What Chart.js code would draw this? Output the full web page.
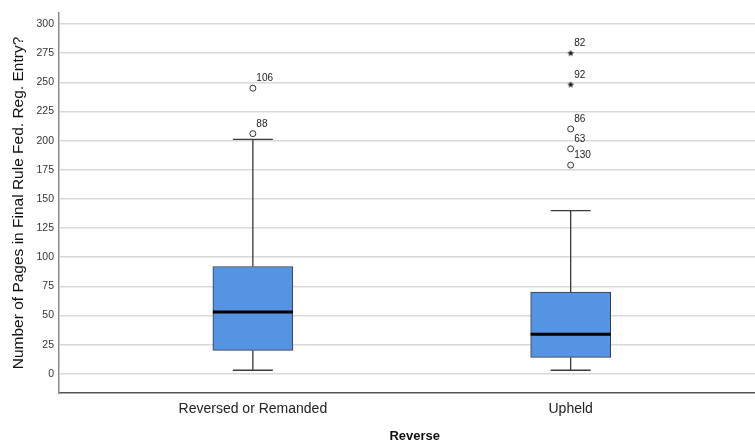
<!DOCTYPE html>
<html>
<head>
<meta charset="utf-8">
<script src="https://cdn.jsdelivr.net/npm/chart.js@4/dist/chart.umd.min.js"></script>
<style>
  html, body { margin: 0; padding: 0; background: #fff; }
  #wrap { width: 755px; height: 447px; }
</style>
</head>
<body>
<div id="wrap"><canvas id="c" width="755" height="447"></canvas></div>
<script>
// Box-plot summary per group (pages in final rule)
const categories = ['Reversed or Remanded', 'Upheld'];
const q1 = [20, 14];
const medians = [53, 34];
const q3 = [92, 70];
const whiskerLow = [3, 3];
const whiskerHigh = [201, 140];

// Outliers (o) and extreme values (*), with case numbers
const outlierCat = [0, 0, 1, 1, 1];
const outlierVal = [245, 206, 210, 193, 179];
const outlierId = ['106', '88', '86', '63', '130'];
const extremeCat = [1, 1];
const extremeVal = [275, 248];
const extremeId = ['82', '92'];

const yTicks = [0, 25, 50, 75, 100, 125, 150, 175, 200, 225, 250, 275, 300];

const FONT = '"Liberation Sans", Arial, Helvetica, sans-serif';
const BOX_W = 80;
const CAP_W = 40;

function starImage(r) {
  const s = Math.ceil(r * 2) + 2;
  const c = document.createElement('canvas');
  c.width = c.height = s;
  const g = c.getContext('2d');
  g.translate(s / 2, s / 2);
  g.beginPath();
  for (let i = 0; i < 10; i++) {
    const rad = i % 2 ? r * 0.42 : r;
    const a = -Math.PI / 2 + i * Math.PI / 5;
    g.lineTo(rad * Math.cos(a), rad * Math.sin(a));
  }
  g.closePath();
  g.fillStyle = '#1a1a1a';
  g.fill();
  return c;
}

// whiskers, caps, medians, case labels and the x-axis title
const boxParts = {
  id: 'boxParts',
  afterDatasetsDraw(chart) {
    const ctx = chart.ctx;
    const xs = chart.scales.x, ys = chart.scales.y;
    ctx.save();
    categories.forEach((_, i) => {
      const x = xs.getPixelForValue(i + 1);
      const yq1 = ys.getPixelForValue(q1[i]);
      const yq3 = ys.getPixelForValue(q3[i]);
      const ylo = ys.getPixelForValue(whiskerLow[i]);
      const yhi = ys.getPixelForValue(whiskerHigh[i]);
      ctx.strokeStyle = '#3a3a3a';
      ctx.lineWidth = 1.3;
      ctx.beginPath();
      ctx.moveTo(x, yq3); ctx.lineTo(x, yhi);
      ctx.moveTo(x, yq1); ctx.lineTo(x, ylo);
      ctx.moveTo(x - CAP_W / 2, yhi); ctx.lineTo(x + CAP_W / 2, yhi);
      ctx.moveTo(x - CAP_W / 2, ylo); ctx.lineTo(x + CAP_W / 2, ylo);
      ctx.stroke();
      const ym = ys.getPixelForValue(medians[i]);
      ctx.strokeStyle = '#000';
      ctx.lineWidth = 3;
      ctx.beginPath();
      ctx.moveTo(x - BOX_W / 2, ym); ctx.lineTo(x + BOX_W / 2, ym);
      ctx.stroke();
    });

    ctx.fillStyle = '#222';
    ctx.font = '10px ' + FONT;
    ctx.textAlign = 'left';
    ctx.textBaseline = 'middle';
    const label = (dsIndex, ids) => {
      chart.getDatasetMeta(dsIndex).data.forEach((pt, j) => {
        ctx.fillText(ids[j], pt.x + 3.5, pt.y - 9.5);
      });
    };
    label(1, outlierId);
    label(2, extremeId);

    ctx.fillStyle = '#111';
    ctx.font = 'bold 13px ' + FONT;
    ctx.textAlign = 'center';
    ctx.fillText('Reverse', xs.getPixelForValue(1.5) + 3, 436);
    ctx.restore();
  }
};

new Chart(document.getElementById('c'), {
  type: 'bar',
  data: {
    datasets: [
      {
        type: 'bar',
        data: categories.map((_, i) => ({ x: i + 1, y: [q1[i], q3[i]] })),
        backgroundColor: '#5594e3',
        borderColor: '#3a3a3a',
        borderWidth: 1,
        borderSkipped: false,
        barThickness: BOX_W,
        order: 2
      },
      {
        type: 'scatter',
        data: outlierCat.map((c, i) => ({ x: c + 1, y: outlierVal[i] })),
        pointStyle: 'circle',
        pointRadius: 3,
        pointBorderWidth: 1,
        borderColor: '#333',
        backgroundColor: '#fff',
        order: 1
      },
      {
        type: 'scatter',
        data: extremeCat.map((c, i) => ({ x: c + 1, y: extremeVal[i] })),
        pointStyle: starImage(3.6),
        pointRadius: 4,
        order: 1
      }
    ]
  },
  options: {
    responsive: false,
    animation: false,
    layout: { autoPadding: false, padding: { top: 13, left: 0, right: 0, bottom: 0 } },
    plugins: { legend: { display: false }, tooltip: { enabled: false } },
    scales: {
      x: {
        type: 'linear',
        offset: false,
        min: 0.39,
        max: 2.58,
        afterBuildTicks: s => { s.ticks = categories.map((_, i) => ({ value: i + 1 })); },
        afterFit: s => { s.height = 54; },
        ticks: {
          autoSkip: false,
          maxRotation: 0,
          padding: 8,
          color: '#222',
          font: { family: FONT, size: 14 },
          callback: v => categories[v - 1]
        },
        grid: { display: false, drawTicks: false },
        border: { display: true, color: '#555', width: 1.5 }
      },
      y: {
        type: 'linear',
        min: -16.5,
        max: 309.5,
        afterBuildTicks: s => { s.ticks = yTicks.map(v => ({ value: v })); },
        afterFit: s => { s.width = 59; },
        ticks: {
          padding: 5,
          color: '#333',
          font: { family: FONT, size: 10.5 },
          callback: v => String(v)
        },
        grid: { color: '#d9d9d9', lineWidth: 1.5, drawTicks: false },
        border: { display: true, color: '#8c8c8c', width: 1.5 },
        title: {
          display: true,
          text: 'Number of Pages in Final Rule Fed. Reg. Entry?',
          color: '#111',
          font: { family: FONT, size: 15.5 },
          padding: { top: 9, bottom: 0 }
        }
      }
    }
  },
  plugins: [boxParts]
});
</script>
</body>
</html>
